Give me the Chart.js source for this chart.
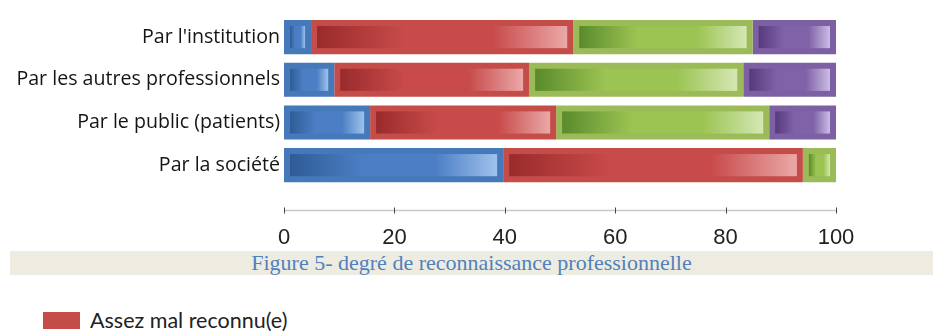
<!DOCTYPE html>
<html lang="fr">
<head>
<meta charset="utf-8">
<title>Degré de reconnaissance professionnelle</title>
<script src="https://cdn.jsdelivr.net/npm/chart.js@4.4.1/dist/chart.umd.min.js"></script>
<style>
  html, body { margin: 0; padding: 0; background: #fff; }
  body { width: 933px; height: 331px; position: relative; overflow: hidden; }
  #wrap { position: absolute; left: 0; top: 0; width: 933px; height: 250px; }
  .caption {
    position: absolute; left: 10px; top: 251px; width: 923px; height: 24px;
    background: #eeece1; color: #4f81bd; text-align: center;
    font: 22px "Liberation Serif", "Times New Roman", serif; line-height: 24px;
  }
  .legend {
    position: absolute; left: 43px; top: 307px; display: flex; align-items: center;
    font: 21.5px Lato, sans-serif; color: #222;
  }
  .legend i { display: inline-block; width: 37px; height: 17px; margin-right: 10px; }
</style>
</head>
<body>
<div id="wrap"><canvas id="recoChart"></canvas></div>
<div class="caption">Figure 5- degré de reconnaissance professionnelle</div>
<div class="legend"><i id="legendSwatch"></i><span id="legendText"></span></div>

<script>
/* ── Data ── */
const categories = [
  "Par l'institution",
  'Par les autres professionnels',
  'Par le public (patients)',
  'Par la société',
];
const seriesNames = [
  'Très mal reconnu(e)',
  'Assez mal reconnu(e)',
  'Assez bien reconnu(e)',
  'Très bien reconnu(e)',
];
const tresMal   = [4.9, 9.1, 15.6, 39.7];
const assezMal  = [47.5, 35.3, 33.7, 54.3];
const assezBien = [32.5, 38.8, 38.6, 6.0];
const tresBien  = [15.1, 16.8, 12.1, 0];
const xTicks    = [0, 20, 40, 60, 80, 100];

/* ── Office-style shading: flat frame + inner dark→light gradient ── */
const SHADES = [
  { frame: '#4679b9', dark: '#2f5c95', mid: '#4b7ec4', light: '#9ec2ec' },
  { frame: '#c44d4a', dark: '#9a2b2b', mid: '#c84a4a', light: '#eba8a8' },
  { frame: '#9bbb59', dark: '#5a8a2c', mid: '#9cc452', light: '#d4e7b4' },
  { frame: '#7d60a3', dark: '#553a7c', mid: '#7f62a8', light: '#cbbde3' },
];
const INSET = 6;

const innerGradient = {
  id: 'innerGradient',
  afterDatasetsDraw(chart) {
    const ctx = chart.ctx;
    ctx.save();
    chart.data.datasets.forEach((ds, i) => {
      const s = SHADES[i];
      chart.getDatasetMeta(i).data.forEach(bar => {
        const { x, y, base, height } = bar.getProps(['x', 'y', 'base', 'height'], true);
        const left = Math.min(x, base) + INSET;
        const right = Math.max(x, base) - INSET;
        if (right - left < 2) return;
        const top = y - height / 2 + INSET;
        const g = ctx.createLinearGradient(left, 0, right, 0);
        g.addColorStop(0, s.dark);
        g.addColorStop(0.35, s.mid);
        g.addColorStop(0.7, s.mid);
        g.addColorStop(1, s.light);
        ctx.fillStyle = g;
        ctx.fillRect(left, top, right - left, height - INSET * 2);
      });
    });
    ctx.restore();
  },
};

/* x axis line sits a little below the last bar, with small tick marks */
const axisLine = {
  id: 'axisLine',
  afterDraw(chart) {
    const { ctx, chartArea, scales: { x } } = chart;
    const yLine = Math.round(chartArea.bottom + 23) + 0.5;
    ctx.save();
    ctx.lineWidth = 1.5;
    ctx.strokeStyle = '#c8c8c8';
    ctx.beginPath();
    ctx.moveTo(x.getPixelForValue(xTicks[0]), yLine);
    ctx.lineTo(x.getPixelForValue(xTicks[xTicks.length - 1]), yLine);
    ctx.stroke();
    ctx.lineWidth = 1;
    ctx.strokeStyle = '#444';
    x.ticks.forEach(t => {
      const px = Math.round(x.getPixelForValue(t.value)) + 0.5;
      ctx.beginPath();
      ctx.moveTo(px, yLine - 3);
      ctx.lineTo(px, yLine + 3);
      ctx.stroke();
    });
    ctx.restore();
  },
};

const values = [tresMal, assezMal, assezBien, tresBien];

const recoChart = new Chart(document.getElementById('recoChart'), {
  type: 'bar',
  data: {
    labels: categories,
    datasets: values.map((data, i) => ({
      label: seriesNames[i],
      data,
      backgroundColor: SHADES[i].frame,
      borderWidth: 0,
      barPercentage: 0.8,
      categoryPercentage: 1,
    })),
  },
  options: {
    indexAxis: 'y',
    responsive: true,
    maintainAspectRatio: false,
    animation: false,
    layout: { padding: { top: 11, right: 97, bottom: 0, left: 0 } },
    plugins: {
      legend: { display: false },
      tooltip: { enabled: false },
    },
    scales: {
      x: {
        stacked: true,
        min: 0,
        max: 100,
        afterBuildTicks: s => { s.ticks = xTicks.map(v => ({ value: v })); },
        afterFit: s => { s.height = 63.5; },
        grid: { display: false, drawTicks: false },
        border: { display: false },
        ticks: {
          font: { family: 'Liberation Sans', size: 22 },
          color: '#222',
          padding: 38,
          maxRotation: 0,
        },
      },
      y: {
        stacked: true,
        afterFit: s => { s.width = 284; },
        grid: { display: false, drawTicks: false },
        border: { display: false },
        ticks: {
          font: { family: 'Open Sans', size: 19.6 },
          color: '#151515',
          padding: 4,
        },
      },
    },
  },
  plugins: [innerGradient, axisLine],
});

/* partial legend row under the caption */
document.getElementById('legendSwatch').style.background = SHADES[1].frame;
document.getElementById('legendText').textContent = seriesNames[1];
</script>
</body>
</html>
